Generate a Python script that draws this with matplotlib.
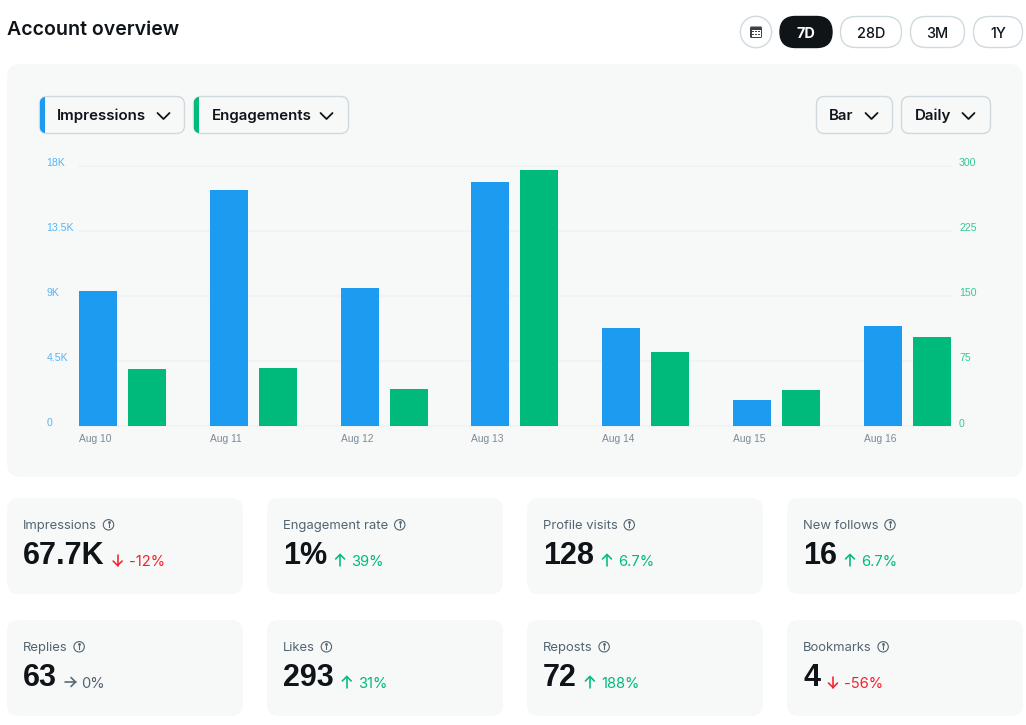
# Account overview dashboard
import matplotlib
matplotlib.use('Agg')
import matplotlib.pyplot as plt
from matplotlib.patches import FancyBboxPatch, Circle, Rectangle
from matplotlib.transforms import ScaledTranslation

# chart data
dates = ['Aug 10', 'Aug 11', 'Aug 12', 'Aug 13', 'Aug 14', 'Aug 15', 'Aug 16']
impressions = [9320, 16340, 9540, 16890, 6740, 1830, 6910]
engagements = [66, 67, 43, 295, 85, 41, 102]
left_ticks = [0, 4500, 9000, 13500, 18000]
left_labels = ['0', '4.5K', '9K', '13.5K', '18K']
right_ticks = [0, 75, 150, 225, 300]
right_labels = ['0', '75', '150', '225', '300']

# stat cards
card_names = ['Impressions', 'Engagement rate', 'Profile visits', 'New follows',
              'Replies', 'Likes', 'Reposts', 'Bookmarks']
card_values = ['67.7K', '1%', '128', '16', '63', '293', '72', '4']
card_changes = ['-12%', '39%', '6.7%', '6.7%', '0%', '31%', '188%', '-56%']
card_trends = ['down', 'up', 'up', 'up', 'flat', 'up', 'up', 'down']

# colours
BLUE = '#1d9bf0'
GREEN = '#00ba7c'
RED = '#f4212e'
DARK = '#0f1419'
GREY = '#536471'
PANEL = '#f7f9f9'
BORDER = '#cfd9de'
GRID = '#eff3f4'
trend_colors = {'up': GREEN, 'down': RED, 'flat': GREY}

plt.rcParams['font.family'] = ['Inter', 'DejaVu Sans']

W, H = 1026, 725
fig = plt.figure(figsize=(W / 100, H / 100), dpi=100, facecolor='white')

# background axes in pixel coordinates for the panel, cards and buttons
bg = fig.add_axes([0, 0, 1, 1])
bg.set_xlim(0, W)
bg.set_ylim(H, 0)
bg.axis('off')


def box(x0, y0, x1, y1, r, fc, ec='none', lw=1.0, z=1):
    p = FancyBboxPatch((x0 + r, y0 + r), x1 - x0 - 2 * r, y1 - y0 - 2 * r,
                       boxstyle='round,pad=%f,rounding_size=%f' % (r, r),
                       fc=fc, ec=ec, lw=lw, zorder=z)
    bg.add_patch(p)
    return p


def chevron(cx, cy):
    bg.plot([cx - 6, cx, cx + 6], [cy - 3, cy + 3, cy - 3], color=DARK, lw=1.3,
            solid_capstyle='round', solid_joinstyle='round', zorder=4)


def arrow(cx, cy, trend):
    c = trend_colors[trend]
    kw = dict(color=c, lw=1.15, solid_capstyle='round', solid_joinstyle='miter', zorder=4)
    if trend == 'up':
        bg.plot([cx, cx], [cy - 5.5, cy + 5.5], **kw)
        bg.plot([cx - 4.5, cx, cx + 4.5], [cy - 1, cy - 5.5, cy - 1], **kw)
    elif trend == 'down':
        bg.plot([cx, cx], [cy - 5.5, cy + 5.5], **kw)
        bg.plot([cx - 4.5, cx, cx + 4.5], [cy + 1, cy + 5.5, cy + 1], **kw)
    else:
        bg.plot([cx - 5.5, cx + 5.5], [cy, cy], **kw)
        bg.plot([cx + 1, cx + 5.5, cx + 1], [cy - 4.5, cy, cy + 4.5], **kw)


def right_edge(t):
    return t.get_window_extent(renderer).x1


renderer = fig.canvas.get_renderer()

bg.text(7, 35, 'Account overview', fontsize=14.05, fontweight='semibold', color=DARK,
        va='baseline', ha='left')

# date range buttons
bg.add_patch(Circle((756, 32), 15.7, fc='white', ec=BORDER, lw=1.0))
box(750, 26.5, 762, 38, 1.5, '#3a4148', z=3)
bg.add_patch(Rectangle((751.5, 29.5), 9, 7, fc='white', ec='none', zorder=4))
for dx in (753, 756, 759):
    for dy in (31.2, 34.2):
        bg.add_patch(Rectangle((dx - 0.7, dy - 0.7), 1.4, 1.4, fc='#3a4148', ec='none', zorder=5))
for x0, x1, lab, active in [(780, 832, '7D', True), (840.5, 901.5, '28D', False),
                            (910.5, 964.5, '3M', False), (973.5, 1022.5, '1Y', False)]:
    box(x0, 16.5, x1, 47.5, 15.5, DARK if active else 'white', BORDER if not active else DARK)
    bg.text((x0 + x1) / 2, 37.5, lab, fontsize=10.4, color='white' if active else DARK,
            fontweight='bold' if active else 'medium', ha='center', va='baseline', zorder=3)

# chart panel
box(7, 64, 1023, 477, 14, PANEL)

# dropdowns
for x0, x1, lab, tx, cx, col in [(39.5, 184.5, 'Impressions', 57, 163.5, BLUE),
                                 (193.5, 348.5, 'Engagements', 212, 326.5, GREEN),
                                 (816.5, 892.5, 'Bar', 829, 871.5, None),
                                 (901.5, 990.5, 'Daily', 915, 968.5, None)]:
    b = box(x0, 96.5, x1, 133.5, 8, PANEL, BORDER, z=2)
    if col:
        strip = Rectangle((x0, 96.5), 5.5, 37, fc=col, ec='none', zorder=3)
        bg.add_patch(strip)
        strip.set_clip_path(b)
    bg.text(tx, 120, lab, fontsize=10.85, color=DARK, fontweight='semibold', ha='left', va='baseline', zorder=4)
    chevron(cx, 116)

# cards, label, big value, then arrow and change placed after the measured value
card_x = [7, 267, 527, 787]
card_y = [498, 620]
for i, name in enumerate(card_names):
    x0 = card_x[i % 4]
    y0 = card_y[i // 4]
    box(x0, y0, x0 + 236, y0 + 96, 12, PANEL)
    lab = bg.text(x0 + 16, y0 + 31, name, fontsize=9.4, color=GREY, ha='left', va='baseline', zorder=3)
    ix = right_edge(lab) + 11.5
    bg.add_patch(Circle((ix, y0 + 26.8), 5.2, fc='none', ec=GREY, lw=0.8, zorder=3))
    bg.plot([ix, ix], [y0 + 26.3, y0 + 29.3], color=GREY, lw=0.8, zorder=3)
    bg.plot([ix], [y0 + 24.3], 's', ms=0.9, color=GREY, zorder=3)
    val = bg.text(x0 + 16, y0 + 66, card_values[i], fontsize=22, fontweight='bold',
                  family=['Liberation Sans'], color=DARK, ha='left', va='baseline', zorder=3)
    vx = right_edge(val)
    trend = card_trends[i]
    arrow(vx + 13, y0 + 62, trend)
    bg.text(vx + 24, y0 + 67.5, card_changes[i], fontsize=10.6, color=trend_colors[trend],
            ha='left', va='baseline', zorder=3)

# bar chart, two y axes
plot_x0, plot_x1, plot_top, plot_bottom = 79, 951, 165.5, 426
step = 130.8
ax = fig.add_axes([plot_x0 / W, 1 - plot_bottom / H, (plot_x1 - plot_x0) / W, (plot_bottom - plot_top) / H])
ax2 = ax.twinx()
ax.patch.set_visible(False)
ax2.patch.set_visible(False)
bar_w = 38 / step
offset = 49 / step
xs = list(range(len(dates)))
ax.bar(xs, impressions, width=bar_w, color=BLUE, zorder=3)
ax2.bar([x + offset for x in xs], engagements, width=bar_w, color=GREEN, zorder=3)

ax.set_xlim(-bar_w / 2, -bar_w / 2 + (plot_x1 - plot_x0) / step)
ax.set_ylim(0, left_ticks[-1])
ax2.set_ylim(0, right_ticks[-1])

ax.set_xticks([x - bar_w / 2 for x in xs], dates, ha='left', fontsize=7.4,
              color='#7b8a97', family=['Liberation Sans'])
ax.set_yticks(left_ticks, left_labels, ha='left', fontsize=7.6, color='#56b4f4',
              family=['Liberation Sans'])
ax2.set_yticks(right_ticks, right_labels, fontsize=7.6, color='#33c896',
               family=['Liberation Sans'])
ax.tick_params(axis='x', length=0, pad=5.5)
ax.tick_params(axis='y', length=0, pad=23.5)
ax2.tick_params(axis='y', length=0, pad=5.8)
ax.grid(axis='y', color=GRID, lw=1.3)
ax.set_axisbelow(True)
for line in ax.get_ygridlines():
    line.set_clip_on(False)
for a in (ax, ax2):
    for s in a.spines.values():
        s.set_visible(False)
# tick labels sit just above their gridline
lift = ScaledTranslation(0, 3.5 / 100, fig.dpi_scale_trans)
for t in ax.get_yticklabels() + ax2.get_yticklabels():
    t.set_transform(t.get_transform() + lift)

fig.savefig('out.png', dpi=100, facecolor='white')
